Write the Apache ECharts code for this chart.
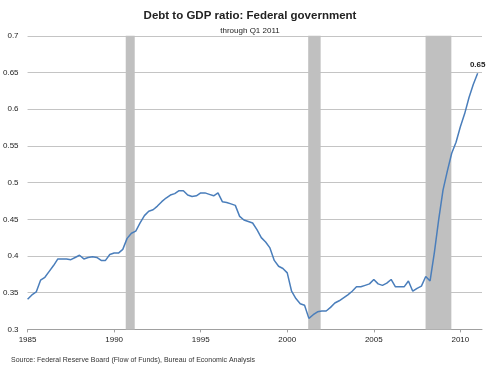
<!DOCTYPE html>
<html>
<head>
<meta charset="utf-8">
<script src="https://cdn.jsdelivr.net/npm/echarts@6/dist/echarts.min.js"></script>
<style>
html,body{margin:0;padding:0;background:#fff;}
#chart{width:500px;height:367px;}
</style>
</head>
<body>
<div id="chart"></div>
<script>
// Quarterly data, 1985 Q1 through 2011 Q1
const startYear = 1985;
const debtToGdp = [
  0.341, 0.347, 0.351, 0.367,
  0.371, 0.379, 0.387, 0.396,
  0.396, 0.396, 0.395, 0.398,
  0.401, 0.396, 0.398, 0.399,
  0.398, 0.394, 0.394, 0.402,
  0.404, 0.404, 0.409, 0.424,
  0.431, 0.434, 0.445, 0.455,
  0.461, 0.463, 0.468, 0.474,
  0.479, 0.483, 0.485, 0.489,
  0.489, 0.483, 0.481, 0.482,
  0.486, 0.486, 0.484, 0.482,
  0.486, 0.474, 0.473, 0.471,
  0.469, 0.454, 0.449, 0.447,
  0.445, 0.436, 0.425, 0.419,
  0.411, 0.394, 0.386, 0.383,
  0.377, 0.352, 0.342, 0.335,
  0.333, 0.315, 0.320, 0.324,
  0.325, 0.325, 0.330, 0.336,
  0.339, 0.343, 0.347, 0.352,
  0.358, 0.358, 0.360, 0.362,
  0.368, 0.362, 0.360, 0.363,
  0.368, 0.358, 0.358, 0.358,
  0.366, 0.352, 0.356, 0.359,
  0.372, 0.366, 0.405, 0.450,
  0.490, 0.516, 0.540, 0.555,
  0.576, 0.594, 0.616, 0.634,
  0.649
];
const recessionStarts = [1990.67, 2001.21, 2007.99];
const recessionEnds   = [1991.19, 2001.93, 2009.48];
const xTicks = [1985, 1990, 1995, 2000, 2005, 2010];
const yTicks = [0.3, 0.35, 0.4, 0.45, 0.5, 0.55, 0.6, 0.65, 0.7];

const titleText = 'Debt to GDP ratio: Federal government';
const subtitleText = 'through Q1 2011';
const sourceText = 'Source: Federal Reserve Board (Flow of Funds), Bureau of Economic Analysis';

const FONT = "'Liberation Sans', Arial, sans-serif";

const seriesData = debtToGdp.map((v, i) => [startYear + i / 4, v]);
const lastPoint = seriesData[seriesData.length - 1];

const chart = echarts.init(document.getElementById('chart'), null, {renderer: 'canvas'});
chart.setOption({
  animation: false,
  backgroundColor: '#fff',
  title: [
    {text: titleText, left: 'center', top: 5,
     textStyle: {fontFamily: FONT, fontSize: 11.5, fontWeight: 'bold', color: '#222'}},
    {text: subtitleText, left: 'center', top: 22,
     textStyle: {fontFamily: FONT, fontSize: 8, fontWeight: 'normal', color: '#222'}},
    {text: sourceText, left: 6, top: 352,
     textStyle: {fontFamily: FONT, fontSize: 7, fontWeight: 'normal', color: '#333'}}
  ],
  grid: {left: 26, right: 18, top: 35.8, bottom: 37.6, containLabel: false},
  xAxis: {
    type: 'value', min: xTicks[0], max: 2011.25, interval: 5,
    axisLine: {show: true, lineStyle: {color: '#a0a0a0', width: 1}},
    axisTick: {show: true, length: 3, lineStyle: {color: '#a0a0a0'}},
    splitLine: {show: false},
    axisLabel: {
      fontFamily: FONT, fontSize: 8, color: '#222', margin: 6,
      showMaxLabel: false,
      formatter: v => xTicks.includes(Math.round(v * 100) / 100) ? String(v) : ''
    }
  },
  yAxis: {
    type: 'value', min: yTicks[0], max: yTicks[yTicks.length - 1], interval: 0.05,
    axisLine: {show: false},
    axisTick: {show: false},
    splitLine: {show: true, lineStyle: {color: '#c4c4c4', width: 1.2}},
    axisLabel: {
      fontFamily: FONT, fontSize: 8, color: '#222', margin: 9,
      formatter: v => String(Math.round(v * 100) / 100)
    }
  },
  series: [{
    type: 'line',
    data: seriesData,
    showSymbol: false,
    symbol: 'none',
    lineStyle: {color: '#4a7ebb', width: 1.5},
    itemStyle: {color: '#4a7ebb'},
    z: 3,
    markArea: {
      silent: true,
      itemStyle: {color: '#c0c0c0', opacity: 1},
      data: recessionStarts.map((s, i) => [{xAxis: s}, {xAxis: recessionEnds[i]}])
    },
    markPoint: {
      silent: true,
      symbol: 'circle',
      symbolSize: 1,
      itemStyle: {color: 'rgba(0,0,0,0)'},
      data: [{
        coord: lastPoint,
        label: {
          show: true, position: 'top', distance: 4,
          formatter: () => lastPoint[1].toFixed(2),
          fontFamily: FONT, fontSize: 8, fontWeight: 'bold', color: '#222'
        }
      }]
    }
  }]
});
</script>
</body>
</html>
